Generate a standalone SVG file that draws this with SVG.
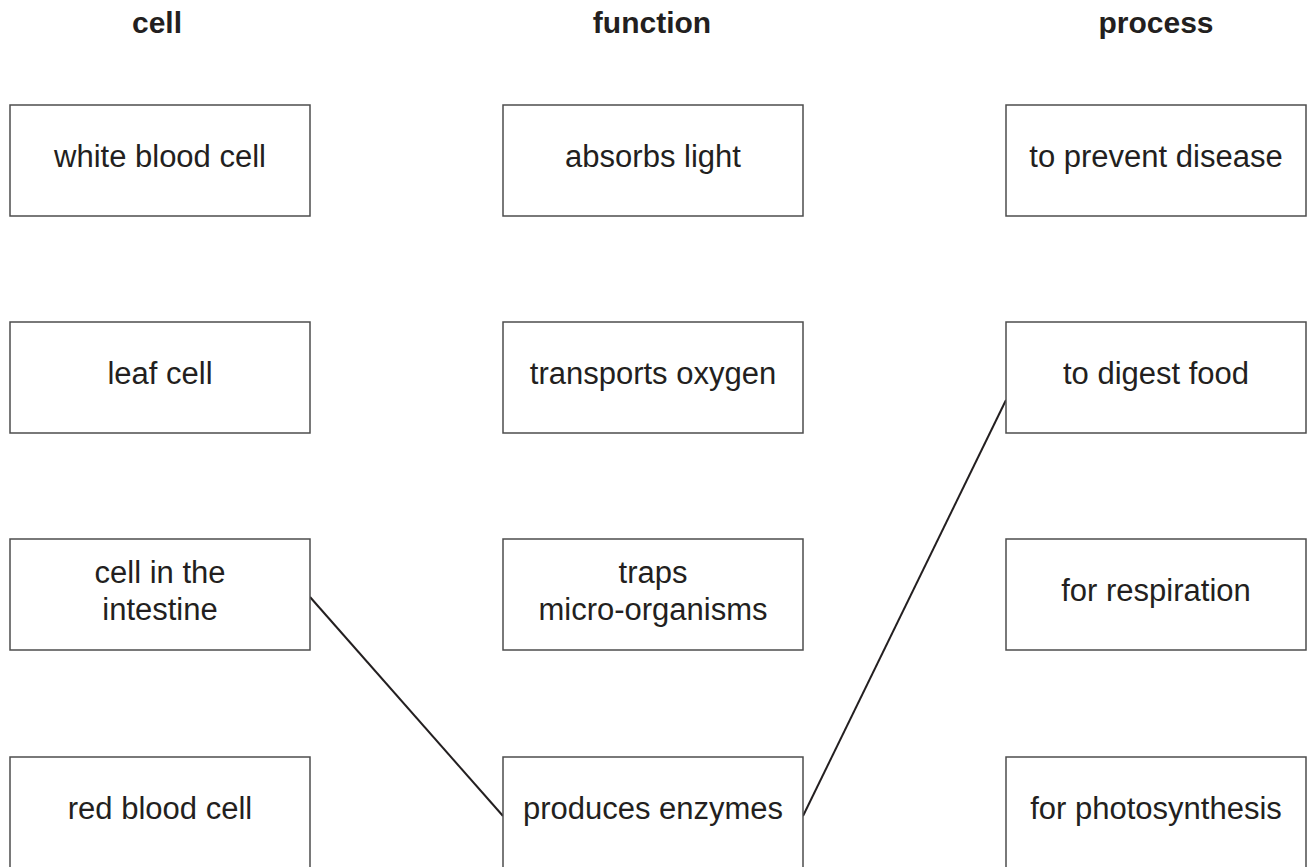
<svg xmlns="http://www.w3.org/2000/svg" width="1311" height="867" viewBox="0 0 1311 867">
<style>
.box{fill:#fff;stroke:#4d4d4d;stroke-width:1.5}
.t{font-family:"Liberation Sans",Arial,sans-serif;font-size:31px;fill:#231f20;text-anchor:middle}
.h{font-family:"Liberation Sans",Arial,sans-serif;font-size:30px;font-weight:bold;fill:#231f20;text-anchor:middle}
.c{stroke:#231f20;stroke-width:2;fill:none}
</style>
<rect width="1311" height="867" fill="#fff"/>
<g id="headers">
<text class="h" x="157" y="33">cell</text>
<text class="h" x="652" y="33">function</text>
<text class="h" x="1156" y="33">process</text>
</g>
<g id="connectors">
<line class="c" x1="310" y1="597" x2="503" y2="816"/>
<line class="c" x1="803" y1="816" x2="1006" y2="400"/>
</g>
<g id="n-white"><rect class="box" x="10" y="105" width="300" height="111"/><text class="t" x="160" y="167">white blood cell</text></g>
<g id="n-leaf"><rect class="box" x="10" y="322" width="300" height="111"/><text class="t" x="160" y="384">leaf cell</text></g>
<g id="n-intestine"><rect class="box" x="10" y="539" width="300" height="111"/><text class="t" x="160" y="583">cell in the</text><text class="t" x="160" y="620">intestine</text></g>
<g id="n-red"><rect class="box" x="10" y="757" width="300" height="111"/><text class="t" x="160" y="819">red blood cell</text></g>
<g id="n-absorbs"><rect class="box" x="503" y="105" width="300" height="111"/><text class="t" x="653" y="167">absorbs light</text></g>
<g id="n-transports"><rect class="box" x="503" y="322" width="300" height="111"/><text class="t" x="653" y="384">transports oxygen</text></g>
<g id="n-traps"><rect class="box" x="503" y="539" width="300" height="111"/><text class="t" x="653" y="583">traps</text><text class="t" x="653" y="620">micro-organisms</text></g>
<g id="n-produces"><rect class="box" x="503" y="757" width="300" height="111"/><text class="t" x="653" y="819">produces enzymes</text></g>
<g id="n-prevent"><rect class="box" x="1006" y="105" width="300" height="111"/><text class="t" x="1156" y="167">to prevent disease</text></g>
<g id="n-digest"><rect class="box" x="1006" y="322" width="300" height="111"/><text class="t" x="1156" y="384">to digest food</text></g>
<g id="n-respiration"><rect class="box" x="1006" y="539" width="300" height="111"/><text class="t" x="1156" y="601">for respiration</text></g>
<g id="n-photo"><rect class="box" x="1006" y="757" width="300" height="111"/><text class="t" x="1156" y="819">for photosynthesis</text></g>
</svg>
